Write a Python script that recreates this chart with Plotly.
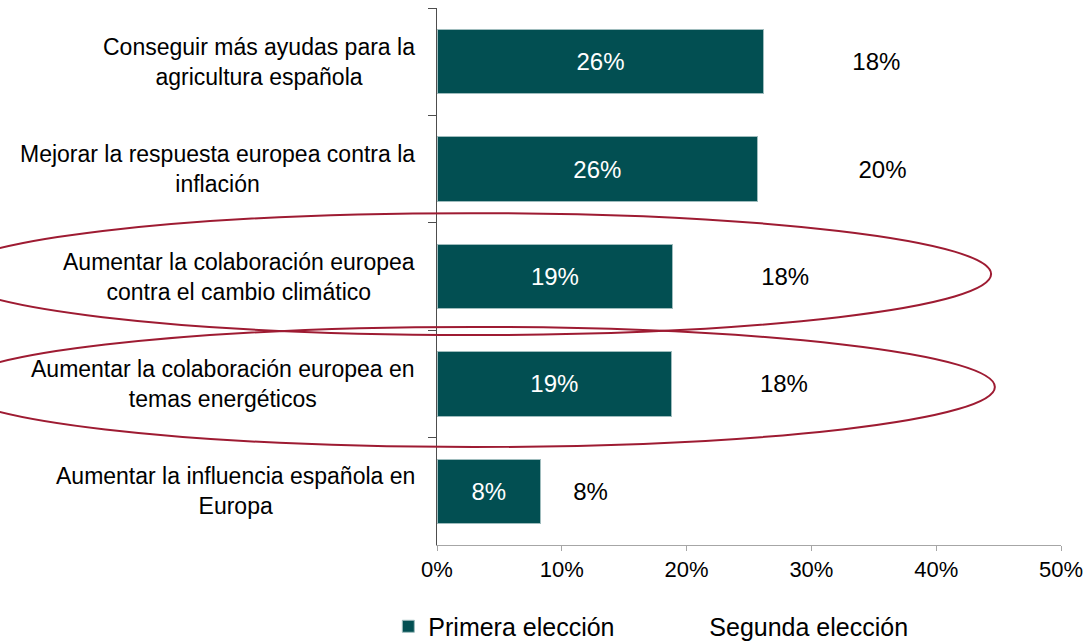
import plotly.graph_objects as go

categories = [
    "Conseguir más ayudas para la<br>agricultura española",
    "Mejorar la respuesta europea contra la<br>inflación",
    "Aumentar la colaboración europea<br>contra el cambio climático",
    "Aumentar la colaboración europea en<br>temas energéticos",
    "Aumentar la influencia española en<br>Europa",
]
primera = [26.2, 25.7, 18.9, 18.8, 8.3]
segunda = [18.0, 20.0, 18.0, 18.0, 8.0]
series_names = ["Primera elección", "Segunda elección"]
x_ticks = [0, 10, 20, 30, 40, 50]

FONT = "Liberation Sans, Arial, sans-serif"
TEAL = "#024f52"
RED = "#9e1b32"

fig = go.Figure()
fig.add_trace(go.Bar(
    y=categories, x=primera, orientation="h", name=series_names[0],
    marker=dict(color=TEAL, line=dict(color="#9fbcbd", width=1)),
    width=0.6,
    text=[f"{round(v)}%" for v in primera],
    textposition="inside", insidetextanchor="middle", textangle=0,
    textfont=dict(color="white", size=24, family=FONT),
    hoverinfo="skip",
))
fig.add_trace(go.Bar(
    y=categories, x=segunda, orientation="h", name=series_names[1],
    marker=dict(color="white", line=dict(color="white", width=0)),
    width=0.6,
    text=[f"{round(v)}%" for v in segunda],
    textposition="inside", insidetextanchor="middle", textangle=0,
    textfont=dict(color="black", size=24, family=FONT),
    hoverinfo="skip",
))

# Category labels (centered multi-line blocks, right-aligned to the axis)
for c in categories:
    fig.add_annotation(
        x=0, xref="paper", y=c, yref="y", text=c,
        xanchor="right", yanchor="middle", xshift=-20,
        align="center", showarrow=False,
        font=dict(size=23, color="black", family=FONT),
    )

# Ellipses highlighting two categories
fig.add_shape(type="circle", xref="paper", yref="paper",
              x0=-0.78, x1=0.888, y0=0.391, y1=0.618,
              line=dict(color=RED, width=2), layer="above")
fig.add_shape(type="circle", xref="paper", yref="paper",
              x0=-0.776, x1=0.894, y0=0.1825, y1=0.406,
              line=dict(color=RED, width=2), layer="above")

fig.update_layout(
    width=1087, height=643,
    margin=dict(l=437, r=26, t=8, b=98, autoexpand=False),
    barmode="stack",
    plot_bgcolor="white", paper_bgcolor="white",
    font=dict(family=FONT, color="black"),
    showlegend=True,
    legend=dict(
        orientation="h", x=-0.078, xanchor="left", y=-0.109, yanchor="top",
        font=dict(size=25, family=FONT, color="black"),
        entrywidth=236, entrywidthmode="pixels",
        traceorder="normal",
    ),
    bargap=0.4,
)
fig.update_xaxes(
    range=[0, 50], tickvals=x_ticks, ticktext=[f"{t}%" for t in x_ticks],
    showgrid=False, zeroline=False,
    showline=True, linecolor="#a6a6a6", linewidth=1,
    ticks="outside", ticklen=5, tickcolor="#a6a6a6",
    tickfont=dict(size=22, family=FONT, color="black"),
)
fig.update_yaxes(
    autorange="reversed", showgrid=False, zeroline=False,
    showline=True, linecolor="#4d4d4d", linewidth=1,
    ticks="outside", ticklen=8, tickcolor="#4d4d4d", tickson="boundaries",
    showticklabels=False,
)

fig.write_html(
    "out.html",
    config={"displayModeBar": False},
    post_script="document.body.style.margin='0';document.body.style.padding='0';",
)
